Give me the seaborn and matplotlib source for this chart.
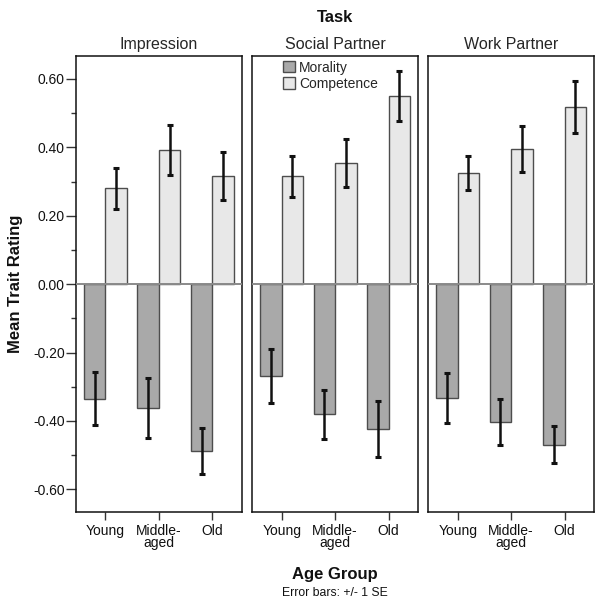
import matplotlib
matplotlib.use("Agg")
import matplotlib.pyplot as plt
import seaborn as sns
import pandas as pd
from matplotlib.patches import Patch
from matplotlib.ticker import MultipleLocator, FormatStrFormatter

# ---------------- data ----------------
tasks = ["Impression", "Social Partner", "Work Partner"]
age_groups = ["Young", "Middle-\naged", "Old"]
attributes = ["Morality", "Competence"]

morality_means = [[-0.335, -0.362, -0.487],
                  [-0.268, -0.381, -0.423],
                  [-0.332, -0.403, -0.469]]
morality_se = [[0.078, 0.087, 0.067],
               [0.078, 0.072, 0.082],
               [0.073, 0.068, 0.054]]
competence_means = [[0.280, 0.392, 0.315],
                    [0.316, 0.355, 0.550],
                    [0.325, 0.396, 0.518]]
competence_se = [[0.059, 0.072, 0.070],
                 [0.060, 0.070, 0.072],
                 [0.049, 0.067, 0.075]]

# ---------------- style ----------------
sns.set_theme(style="white")
plt.rcParams['font.family'] = ['Liberation Sans', 'DejaVu Sans']

colors = {"Morality": "#a9a9a9", "Competence": "#e8e8e8"}
edge = "#4d4d4d"

W, H = 604, 606
fig = plt.figure(figsize=(W / 100, H / 100), dpi=100)

ax_left_px = [76, 252.3, 428.3]
ax_w_px = 165.7
ax_top_px, ax_bot_px = 55.7, 512.3

axes = []
for i, task in enumerate(tasks):
    ax = fig.add_axes([ax_left_px[i] / W, 1 - ax_bot_px / H,
                       ax_w_px / W, (ax_bot_px - ax_top_px) / H])
    df = pd.DataFrame({
        "Age": age_groups * 2,
        "Attribute": ["Morality"] * 3 + ["Competence"] * 3,
        "Rating": morality_means[i] + competence_means[i],
    })
    sns.barplot(data=df, x="Age", y="Rating", hue="Attribute",
                order=age_groups, hue_order=attributes, palette=colors,
                width=0.8, errorbar=None, edgecolor=edge, linewidth=1.0,
                saturation=1, legend=False, ax=ax, zorder=2)
    ax.axhline(0, color="#8a8a8a", lw=1.4, zorder=3)

    ses = {"Morality": morality_se[i], "Competence": competence_se[i]}
    means = {"Morality": morality_means[i], "Competence": competence_means[i]}
    for cont, attr in zip(ax.containers, attributes):
        xs = [p.get_x() + p.get_width() / 2 for p in cont.patches]
        ax.errorbar(xs, means[attr], yerr=ses[attr], fmt="none",
                    ecolor="#111111", elinewidth=1.8, capsize=2.2,
                    capthick=2.2, zorder=4)

    ax.set_ylim(-0.667, 0.668)
    ax.set_xlim(-0.55, 2.55)
    ax.set_title(task, fontsize=11.5, pad=5)
    ax.set_xlabel("")
    ax.set_ylabel("")
    for s in ax.spines.values():
        s.set_visible(True)
        s.set_color("#111111")
        s.set_linewidth(1.1)
    ax.tick_params(axis="x", which="major", bottom=True, direction="out",
                   length=5.5, width=1.0, color="#333333", pad=3,
                   labelsize=10, labelcolor="#111111")
    for lbl in ax.get_xticklabels():
        lbl.set_linespacing(0.85)
    if i == 0:
        ax.yaxis.set_major_locator(MultipleLocator(0.2))
        ax.yaxis.set_minor_locator(MultipleLocator(0.1))
        ax.yaxis.set_major_formatter(FormatStrFormatter("%.2f"))
        ax.tick_params(axis="y", which="major", left=True, direction="out",
                       length=7, width=1.0, color="#333333", pad=1,
                       labelsize=10, labelcolor="#111111")
        ax.tick_params(axis="y", which="minor", left=True, direction="out",
                       length=3.6, width=1.0, color="#333333")
    else:
        ax.tick_params(axis="y", which="both", left=False, labelleft=False)
    axes.append(ax)

# legend in middle panel
handles = [Patch(facecolor=colors[a], edgecolor=edge, linewidth=1.0, label=a)
           for a in attributes]
axes[1].legend(handles=handles, loc="upper left",
               bbox_to_anchor=(28 / ax_w_px, 0.995), frameon=False,
               fontsize=10, handlelength=0.85, handleheight=0.85,
               handletextpad=0.3, labelspacing=0.15, borderpad=0.2,
               borderaxespad=0.0)

cx = (ax_left_px[0] + ax_left_px[2] + ax_w_px) / 2 / W
fig.text(cx, 1 - 17 / H, "Task", ha="center", va="center",
         fontsize=12, fontweight="bold", color="#111111")
fig.text(cx, 1 - 575 / H, "Age Group", ha="center", va="center",
         fontsize=12, fontweight="bold", color="#111111")
fig.text(cx, 1 - 593 / H, "Error bars: +/- 1 SE", ha="center", va="center",
         fontsize=8.8, color="#111111")
fig.text(16 / W, 1 - 284 / H, "Mean Trait Rating", ha="center", va="center",
         rotation=90, fontsize=12, fontweight="bold", color="#111111")

fig.savefig("out.png", dpi=100)
